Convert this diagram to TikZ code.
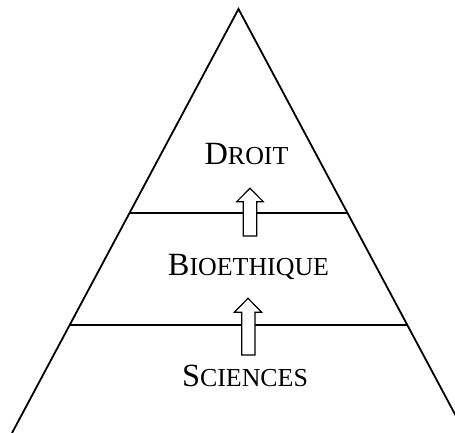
\documentclass[tikz,border=0pt]{standalone}
\usepackage{fontspec}
\setmainfont{Liberation Serif}
\usetikzlibrary{calc}
\newcommand{\mysc}[2]{{\fontsize{32.4}{32.4}\selectfont #1}{\fontsize{25.9}{25.9}\selectfont #2}}
\tikzset{
  edge/.style={line width=1.8pt, line join=miter},
  sep/.style={line width=1.8pt},
  uparrow/.style={draw, fill=white, line width=1.2pt, line join=miter},
  label/.style={anchor=base, inner sep=0pt}
}
\begin{document}
\begin{tikzpicture}[x=1pt,y=-1pt]
\useasboundingbox (0,0) rectangle (455,433);
\coordinate (apex) at (238.5,9);
\coordinate (bl) at (12,433);
\coordinate (br) at (465,433);
\begin{scope}
\clip (0,0) rectangle (455,433);
\draw[edge] (bl) -- (apex) -- (br);
\end{scope}
\coordinate (l1) at ($(apex)!0.4818!(bl)$);
\coordinate (r1) at ($(apex)!0.4818!(br)$);
\coordinate (l2) at ($(apex)!0.7453!(bl)$);
\coordinate (r2) at ($(apex)!0.7453!(br)$);
\draw[sep] (l1) -- (r1);
\draw[sep] (l2) -- (r2);
\node[label] (droit) at (246.5,164.5) {\mysc{D}{ROIT}};
\node[label] (bio) at (248.5,275.5) {\mysc{B}{IOETHIQUE}};
\node[label] (sci) at (245,386) {\mysc{S}{CIENCES}};
\path[uparrow] (243.3,236) -- (243.3,201.7) -- (236.7,201.7) -- (250,188.3) -- (263.3,201.7) -- (256.7,201.7) -- (256.7,236) -- cycle;
\path[uparrow] (241.7,355) -- (241.7,312.3) -- (234.3,312.3) -- (248,298.3) -- (261.7,312.3) -- (255,312.3) -- (255,355) -- cycle;
\end{tikzpicture}
\end{document}
